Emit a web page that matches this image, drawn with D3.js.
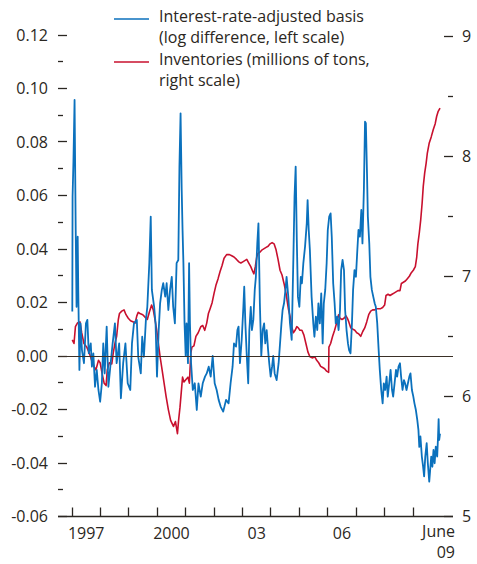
<!DOCTYPE html>
<html>
<head>
<meta charset="utf-8">
<script src="https://cdn.jsdelivr.net/npm/d3@7.9.0/dist/d3.min.js"></script>
<style>
  html, body { margin: 0; padding: 0; background: #fff; }
  svg { display: block; font-family: "Open Sans", "Noto Sans", sans-serif; }
  text { fill: #2b2722; }
</style>
</head>
<body>
<svg id="chart" width="477" height="564"></svg>
<script>
// interest-rate-adjusted basis (log difference, left scale): [decimal year, value]
const basis = [
  [1997.01, 0.0166], [1997.02, 0.0596], [1997.05, 0.0726], [1997.09, 0.0957], [1997.13, 0.0471],
  [1997.16, 0.0184], [1997.20, 0.0446], [1997.22, 0.0247], [1997.26, -0.0052], [1997.30, 0.0122],
  [1997.35, 0.0022], [1997.42, -0.0027], [1997.49, 0.0122], [1997.54, 0.0135], [1997.59, 0.0010],
  [1997.66, 0.0047], [1997.70, -0.0040], [1997.75, 0.0010], [1997.81, -0.0115], [1997.87, -0.0052],
  [1997.93, -0.0127], [1997.99, -0.0171], [1998.05, -0.0102], [1998.10, 0.0047], [1998.15, -0.0065],
  [1998.22, 0.0110], [1998.28, -0.0115], [1998.36, -0.0027], [1998.43, 0.0047], [1998.51, 0.0122],
  [1998.57, -0.0027], [1998.66, 0.0047], [1998.72, -0.0158], [1998.80, -0.0027], [1998.88, 0.0047],
  [1998.96, -0.0102], [1999.05, -0.0127], [1999.11, 0.0047], [1999.18, 0.0122], [1999.28, 0.0135],
  [1999.33, -0.0003], [1999.42, -0.0065], [1999.47, 0.0072], [1999.53, -0.0003], [1999.60, 0.0135],
  [1999.65, 0.0184], [1999.72, 0.0347], [1999.77, 0.0521], [1999.81, 0.0247], [1999.89, 0.0184],
  [1999.94, 0.0122], [1999.99, -0.0077], [2000.05, 0.0097], [2000.10, 0.0197], [2000.16, 0.0247],
  [2000.21, 0.0272], [2000.28, 0.0222], [2000.33, 0.0272], [2000.39, 0.0172], [2000.45, 0.0247],
  [2000.51, 0.0296], [2000.56, 0.0184], [2000.62, 0.0122], [2000.68, 0.0347], [2000.74, 0.0359],
  [2000.78, 0.0708], [2000.82, 0.0907], [2000.86, 0.0620], [2000.89, 0.0470], [2000.92, 0.0347],
  [2000.96, 0.0122], [2001.00, 0.0000], [2001.03, 0.0122], [2001.08, -0.0027], [2001.12, 0.0347],
  [2001.15, 0.0122], [2001.19, -0.0027], [2001.25, -0.0127], [2001.32, -0.0102], [2001.39, -0.0202],
  [2001.45, -0.0102], [2001.53, -0.0152], [2001.60, -0.0102], [2001.68, -0.0077], [2001.74, -0.0065],
  [2001.81, -0.0040], [2001.88, -0.0077], [2001.95, 0.0000], [2002.02, -0.0102], [2002.09, -0.0127],
  [2002.16, -0.0164], [2002.23, -0.0189], [2002.32, -0.0208], [2002.42, -0.0164], [2002.51, -0.0177],
  [2002.58, -0.0102], [2002.65, -0.0040], [2002.70, 0.0047], [2002.77, 0.0035], [2002.82, 0.0097],
  [2002.86, 0.0110], [2002.91, -0.0027], [2002.97, 0.0060], [2003.03, 0.0184], [2003.06, 0.0259],
  [2003.10, 0.0122], [2003.15, 0.0000], [2003.20, -0.0102], [2003.24, 0.0097], [2003.29, 0.0184],
  [2003.33, 0.0097], [2003.38, 0.0135], [2003.43, 0.0247], [2003.47, 0.0296], [2003.52, 0.0421],
  [2003.56, 0.0496], [2003.59, 0.0321], [2003.61, 0.0197], [2003.66, 0.0000], [2003.71, 0.0097],
  [2003.76, 0.0122], [2003.80, 0.0047], [2003.85, 0.0097], [2003.90, 0.0022], [2003.94, -0.0027],
  [2003.99, -0.0077], [2004.04, -0.0040], [2004.08, 0.0000], [2004.13, -0.0065], [2004.20, -0.0090],
  [2004.27, -0.0027], [2004.32, 0.0047], [2004.37, 0.0122], [2004.41, 0.0172], [2004.46, 0.0197],
  [2004.51, 0.0247], [2004.55, 0.0296], [2004.61, 0.0222], [2004.67, 0.0122], [2004.73, 0.0060],
  [2004.79, 0.0371], [2004.83, 0.0596], [2004.87, 0.0708], [2004.91, 0.0434], [2004.95, 0.0221],
  [2005.00, 0.0184], [2005.05, 0.0296], [2005.09, 0.0272], [2005.14, 0.0347], [2005.20, 0.0409],
  [2005.26, 0.0496], [2005.29, 0.0583], [2005.33, 0.0470], [2005.37, 0.0396], [2005.43, 0.0222],
  [2005.49, 0.0122], [2005.53, 0.0072], [2005.58, 0.0147], [2005.63, 0.0097], [2005.67, 0.0197],
  [2005.72, 0.0122], [2005.77, 0.0234], [2005.82, 0.0047], [2005.86, 0.0197], [2005.91, 0.0247],
  [2005.96, 0.0347], [2006.00, 0.0471], [2006.05, 0.0521], [2006.10, 0.0533], [2006.14, 0.0446],
  [2006.19, 0.0272], [2006.24, 0.0197], [2006.28, 0.0122], [2006.33, 0.0147], [2006.38, 0.0097],
  [2006.43, 0.0172], [2006.47, 0.0321], [2006.52, 0.0359], [2006.57, 0.0321], [2006.61, 0.0172],
  [2006.66, 0.0097], [2006.71, 0.0047], [2006.75, 0.0022], [2006.80, 0.0010], [2006.85, 0.0122],
  [2006.89, 0.0247], [2006.94, 0.0321], [2006.99, 0.0296], [2007.04, 0.0396], [2007.08, 0.0471],
  [2007.13, 0.0446], [2007.18, 0.0546], [2007.22, 0.0421], [2007.27, 0.0621], [2007.31, 0.0876],
  [2007.34, 0.0870], [2007.38, 0.0683], [2007.41, 0.0521], [2007.46, 0.0421], [2007.50, 0.0296],
  [2007.55, 0.0247], [2007.60, 0.0222], [2007.65, 0.0197], [2007.69, 0.0184], [2007.74, 0.0122],
  [2007.79, 0.0022], [2007.83, -0.0052], [2007.88, -0.0127], [2007.93, -0.0177], [2007.97, -0.0102],
  [2008.02, -0.0127], [2008.07, -0.0077], [2008.11, -0.0152], [2008.16, -0.0102], [2008.21, -0.0052],
  [2008.26, -0.0127], [2008.30, -0.0152], [2008.35, -0.0102], [2008.40, -0.0052], [2008.44, -0.0077],
  [2008.49, -0.0040], [2008.54, -0.0027], [2008.58, -0.0077], [2008.63, -0.0127], [2008.68, -0.0090],
  [2008.72, -0.0102], [2008.77, -0.0127], [2008.82, -0.0102], [2008.87, -0.0077], [2008.91, -0.0065],
  [2008.96, -0.0127], [2009.01, -0.0152], [2009.05, -0.0177], [2009.10, -0.0202], [2009.15, -0.0240],
  [2009.19, -0.0277], [2009.22, -0.0340], [2009.26, -0.0301], [2009.31, -0.0376], [2009.35, -0.0410],
  [2009.39, -0.0450], [2009.43, -0.0376], [2009.48, -0.0326], [2009.52, -0.0400], [2009.57, -0.0470],
  [2009.60, -0.0430], [2009.64, -0.0376], [2009.68, -0.0414], [2009.72, -0.0351], [2009.76, -0.0401],
  [2009.80, -0.0339], [2009.85, -0.0376], [2009.88, -0.0300], [2009.90, -0.0236], [2009.92, -0.0314],
  [2009.95, -0.0290]
];

// inventories (millions of tons, right scale): [decimal year, value]
const inventories = [
  [1997.01, 6.47], [1997.07, 6.44], [1997.12, 6.58], [1997.19, 6.61], [1997.28, 6.62],
  [1997.34, 6.53], [1997.42, 6.44], [1997.52, 6.41], [1997.61, 6.36], [1997.69, 6.30],
  [1997.77, 6.25], [1997.84, 6.22], [1997.93, 6.30], [1997.99, 6.28], [1998.06, 6.19],
  [1998.13, 6.11], [1998.20, 6.09], [1998.24, 6.22], [1998.31, 6.28], [1998.40, 6.27],
  [1998.45, 6.36], [1998.51, 6.44], [1998.57, 6.50], [1998.63, 6.64], [1998.67, 6.69],
  [1998.75, 6.71], [1998.83, 6.72], [1998.90, 6.68], [1998.98, 6.65], [1999.06, 6.63],
  [1999.16, 6.62], [1999.22, 6.61], [1999.28, 6.67], [1999.33, 6.70], [1999.39, 6.69],
  [1999.49, 6.68], [1999.57, 6.66], [1999.65, 6.64], [1999.72, 6.70], [1999.80, 6.76],
  [1999.86, 6.72], [1999.92, 6.64], [1999.98, 6.55], [2000.04, 6.44], [2000.10, 6.33],
  [2000.17, 6.22], [2000.24, 6.11], [2000.31, 6.00], [2000.39, 5.89], [2000.47, 5.80],
  [2000.57, 5.75], [2000.64, 5.79], [2000.71, 5.69], [2000.75, 5.80], [2000.80, 5.91],
  [2000.85, 6.05], [2000.89, 6.16], [2000.94, 6.12], [2001.01, 6.14], [2001.08, 6.16],
  [2001.13, 6.11], [2001.18, 6.36], [2001.22, 6.41], [2001.29, 6.42], [2001.36, 6.50],
  [2001.44, 6.53], [2001.53, 6.58], [2001.60, 6.59], [2001.67, 6.55], [2001.74, 6.61],
  [2001.80, 6.69], [2001.86, 6.73], [2001.93, 6.78], [2002.00, 6.86], [2002.07, 6.93],
  [2002.14, 6.98], [2002.21, 7.04], [2002.28, 7.09], [2002.35, 7.15], [2002.44, 7.18],
  [2002.54, 7.18], [2002.62, 7.17], [2002.70, 7.16], [2002.79, 7.14], [2002.87, 7.12],
  [2002.94, 7.11], [2003.01, 7.12], [2003.08, 7.13], [2003.15, 7.14], [2003.22, 7.11],
  [2003.29, 7.08], [2003.36, 7.04], [2003.40, 7.02], [2003.45, 7.08], [2003.50, 7.16],
  [2003.54, 7.19], [2003.61, 7.20], [2003.69, 7.22], [2003.76, 7.23], [2003.83, 7.24],
  [2003.90, 7.25], [2003.97, 7.27], [2004.04, 7.28], [2004.11, 7.27], [2004.18, 7.22],
  [2004.25, 7.14], [2004.32, 7.05], [2004.39, 7.01], [2004.46, 6.94], [2004.53, 6.86],
  [2004.58, 6.78], [2004.62, 6.72], [2004.67, 6.67], [2004.73, 6.58], [2004.79, 6.53],
  [2004.85, 6.55], [2004.91, 6.58], [2004.96, 6.57], [2005.02, 6.55], [2005.09, 6.55],
  [2005.16, 6.51], [2005.23, 6.44], [2005.30, 6.37], [2005.37, 6.33], [2005.47, 6.32],
  [2005.54, 6.33], [2005.61, 6.30], [2005.68, 6.28], [2005.75, 6.25], [2005.82, 6.24],
  [2005.89, 6.23], [2005.96, 6.21], [2006.03, 6.20], [2006.04, 6.41], [2006.10, 6.44],
  [2006.17, 6.50], [2006.24, 6.55], [2006.31, 6.61], [2006.38, 6.68], [2006.43, 6.65],
  [2006.50, 6.64], [2006.57, 6.65], [2006.64, 6.67], [2006.69, 6.65], [2006.74, 6.62],
  [2006.81, 6.57], [2006.88, 6.56], [2006.95, 6.55], [2007.02, 6.53], [2007.09, 6.52],
  [2007.16, 6.50], [2007.23, 6.54], [2007.30, 6.57], [2007.37, 6.62], [2007.44, 6.68],
  [2007.51, 6.71], [2007.58, 6.72], [2007.65, 6.72], [2007.72, 6.73], [2007.79, 6.73],
  [2007.86, 6.73], [2007.93, 6.74], [2008.00, 6.76], [2008.05, 6.84], [2008.12, 6.85],
  [2008.19, 6.84], [2008.26, 6.85], [2008.33, 6.86], [2008.40, 6.87], [2008.47, 6.88],
  [2008.54, 6.88], [2008.59, 6.94], [2008.66, 6.95], [2008.73, 6.96], [2008.80, 6.98],
  [2008.87, 7.00], [2008.94, 7.03], [2009.01, 7.05], [2009.08, 7.08], [2009.13, 7.16],
  [2009.17, 7.27], [2009.22, 7.36], [2009.27, 7.47], [2009.32, 7.61], [2009.36, 7.75],
  [2009.41, 7.86], [2009.46, 7.94], [2009.50, 8.02], [2009.57, 8.11], [2009.64, 8.16],
  [2009.71, 8.22], [2009.78, 8.27], [2009.83, 8.33], [2009.88, 8.37], [2009.95, 8.40]
];

const leftTicks = [-0.06, -0.04, -0.02, 0.00, 0.02, 0.04, 0.06, 0.08, 0.10, 0.12];
const leftMinor = [-0.05, -0.03, -0.01, 0.01, 0.03, 0.05, 0.07, 0.09, 0.11];
const rightTicks = [5, 6, 7, 8, 9];
const rightMinor = [5.5, 6.5, 7.5, 8.5];
const yearTicks = [1997, 1998, 1999, 2000, 2001, 2002, 2003, 2004, 2005, 2006, 2007, 2008, 2009];
const yearLabels = [[1997.5, '1997'], [2000.5, '2000'], [2003.5, '03'], [2006.5, '06']];
const legendItems = [
  { color: '#0b71bd', lines: ['Interest-rate-adjusted basis', '(log difference, left scale)'] },
  { color: '#c8102e', lines: ['Inventories (millions of tons,', 'right scale)'] }
];

const ink = '#2b2722';
const svg = d3.select('#chart');

const x = d3.scaleLinear().domain([1996.507, 2010.406]).range([58, 453]);
const yL = d3.scaleLinear().domain([-0.06, 0.12]).range([516.5, 35]);
const yR = d3.scaleLinear().domain([5, 9]).range([516.5, 36]);
const crisp = v => Math.round(v - 0.5) + 0.5;
const fmtLeft = d => d3.format('.2f')(d).replace('\u2212', '-');

// left scale
const left = svg.append('g');
left.selectAll('line.major').data(leftTicks).join('line')
  .attr('x1', 58).attr('x2', 67)
  .attr('y1', d => crisp(yL(d))).attr('y2', d => crisp(yL(d)))
  .attr('stroke', ink).attr('stroke-width', 1.3);
left.selectAll('line.minor').data(leftMinor).join('line')
  .attr('x1', 58).attr('x2', 63)
  .attr('y1', d => crisp(yL(d))).attr('y2', d => crisp(yL(d)))
  .attr('stroke', ink).attr('stroke-width', 1.3);
left.selectAll('text').data(leftTicks).join('text')
  .attr('x', 48).attr('y', d => yL(d)).attr('dy', '0.36em')
  .attr('text-anchor', 'end').attr('font-size', 16)
  .text(fmtLeft);

// right scale
const right = svg.append('g');
right.selectAll('line.major').data(rightTicks).join('line')
  .attr('x1', 444).attr('x2', 453)
  .attr('y1', d => crisp(yR(d))).attr('y2', d => crisp(yR(d)))
  .attr('stroke', ink).attr('stroke-width', 1.3);
right.selectAll('line.minor').data(rightMinor).join('line')
  .attr('x1', 448).attr('x2', 453)
  .attr('y1', d => crisp(yR(d))).attr('y2', d => crisp(yR(d)))
  .attr('stroke', ink).attr('stroke-width', 1.3);
right.selectAll('text').data(rightTicks).join('text')
  .attr('x', 462).attr('y', d => yR(d)).attr('dy', '0.36em')
  .attr('font-size', 16)
  .text(d => d);

// series
svg.append('path').datum(inventories)
  .attr('fill', 'none').attr('stroke', '#c8102e').attr('stroke-width', 1.6)
  .attr('stroke-linejoin', 'round')
  .attr('d', d3.line().x(d => x(d[0])).y(d => yR(d[1])));

svg.append('path').datum(basis)
  .attr('fill', 'none').attr('stroke', '#0b71bd').attr('stroke-width', 1.8)
  .attr('stroke-linejoin', 'round')
  .attr('d', d3.line().x(d => x(d[0])).y(d => yL(d[1])));

// zero line
svg.append('line')
  .attr('x1', 58).attr('x2', 453)
  .attr('y1', crisp(yL(0))).attr('y2', crisp(yL(0)))
  .attr('stroke', '#3a3027').attr('stroke-width', 1.2);

// bottom axis
const bottom = svg.append('g');
bottom.append('line')
  .attr('x1', 58).attr('x2', 453)
  .attr('y1', 516.5).attr('y2', 516.5)
  .attr('stroke', ink).attr('stroke-width', 1.3);
bottom.selectAll('line.tick').data(yearTicks).join('line')
  .attr('x1', d => crisp(x(d))).attr('x2', d => crisp(x(d)))
  .attr('y1', 507.5).attr('y2', 516.5)
  .attr('stroke', ink).attr('stroke-width', 1.3);
bottom.selectAll('text.lbl').data(yearLabels).join('text')
  .attr('x', d => x(d[0])).attr('y', 538.5)
  .attr('text-anchor', 'middle').attr('font-size', 16)
  .text(d => d[1]);
bottom.append('text').attr('x', 455).attr('y', 537)
  .attr('text-anchor', 'end').attr('font-size', 16).text('June');
bottom.append('text').attr('x', 455).attr('y', 557.5)
  .attr('text-anchor', 'end').attr('font-size', 16).text('09');

// legend
const legend = svg.append('g');
legendItems.forEach((item, i) => {
  const top = 21.5 + i * 43;
  legend.append('line')
    .attr('x1', 114).attr('x2', 149)
    .attr('y1', top - 2.5).attr('y2', top - 2.5)
    .attr('stroke', item.color).attr('stroke-width', 1.4);
  item.lines.forEach((ln, j) => {
    legend.append('text').attr('x', 159).attr('y', top + j * 21.5)
      .attr('font-size', 16).text(ln);
  });
});
</script>
</body>
</html>
